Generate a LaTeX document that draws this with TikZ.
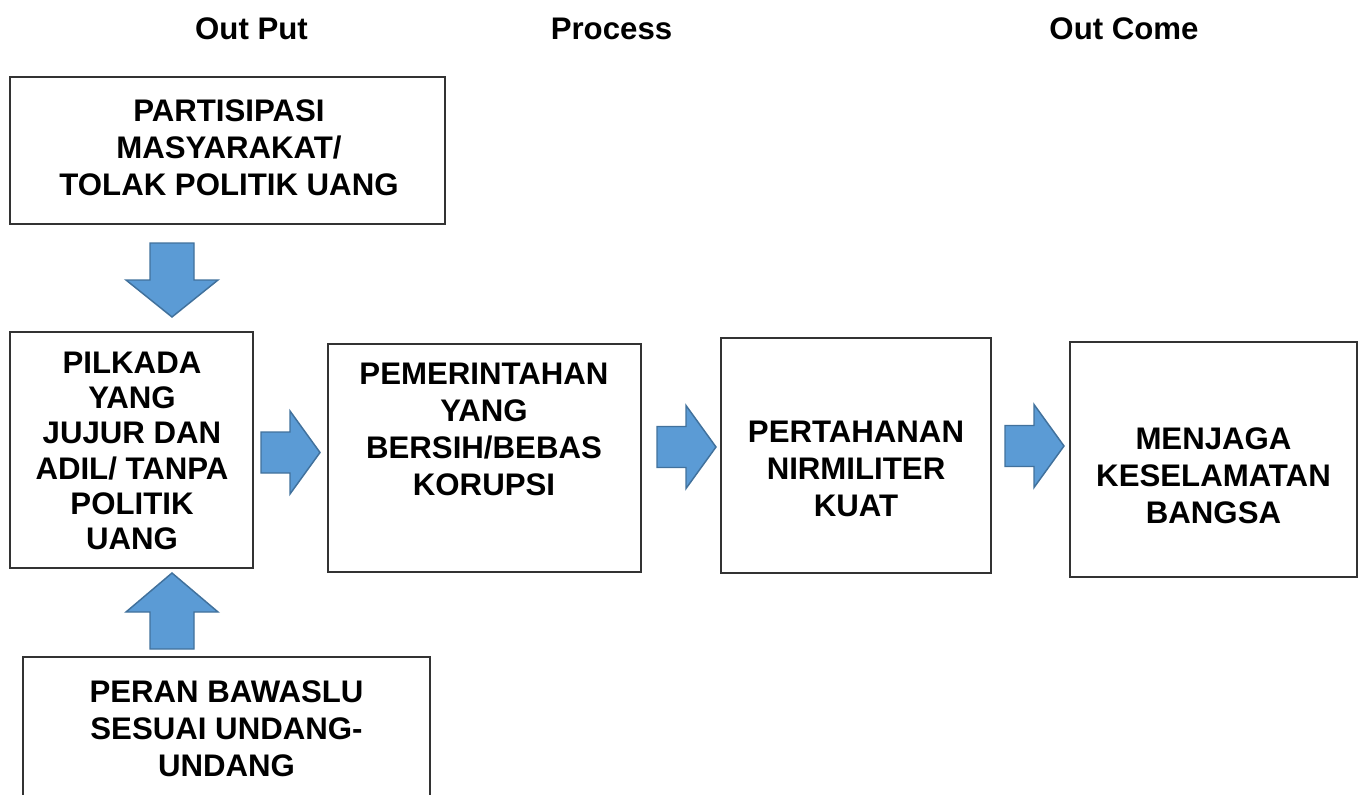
\documentclass[tikz,border=0pt]{standalone}
\usepackage{fontspec}
\setmainfont{Liberation Sans}
\usetikzlibrary{fit}
\definecolor{arrfill}{HTML}{5B9BD5}
\definecolor{arrline}{HTML}{41719C}
\tikzset{
  box/.style={draw=black!80, line width=0.9pt, inner sep=0pt, fill=white},
  txt/.style={align=center, inner sep=0pt, font=\bfseries\fontsize{23.4}{27.75}\selectfont},
  txtb/.style={align=center, inner sep=0pt, font=\bfseries\fontsize{23.4}{26.5}\selectfont},
  head/.style={inner sep=0pt, anchor=base, font=\bfseries\fontsize{23.4}{27}\selectfont},
  blockarrow/.style={fill=arrfill, draw=arrline, line width=1.1pt, line join=miter},
  rarr/.pic={\draw[blockarrow] (0,-20.5) -- (29,-20.5) -- (29,-41.5) -- (59,0) -- (29,41.5) -- (29,20.5) -- (0,20.5) -- cycle;},
  darr/.pic={\draw[blockarrow] (-22,0) -- (22,0) -- (22,37) -- (46,37) -- (0,74) -- (-46,37) -- (-22,37) -- cycle;},
  uarr/.pic={\draw[blockarrow] (-22,0) -- (22,0) -- (22,-37) -- (46,-37) -- (0,-76) -- (-46,-37) -- (-22,-37) -- cycle;},
}
\begin{document}
\begin{tikzpicture}[x=0.75pt,y=-0.75pt]
\useasboundingbox (0,0) rectangle (1363,795);
\clip (0,0) rectangle (1363,795);
% headers
\node[head] (hOut) at (251.5,40) {Out Put};
\node[head] (hProc) at (611.5,40) {Process};
\node[head] (hCome) at (1124,40) {Out Come};
% boxes
\node[box, fit={(10,77)(445,224)}] (A) {};
\node[box, fit={(10,332)(253,568)}] (B) {};
\node[box, fit={(23,657)(430,820)}] (C) {};
\node[box, fit={(328,344)(641,572)}] (D) {};
\node[box, fit={(721,338)(991,573)}] (E) {};
\node[box, fit={(1070,342)(1357,577)}] (F) {};
% texts
\node[txt] (tA) at (229,148) {PARTISIPASI\\MASYARAKAT/\\TOLAK POLITIK UANG};
\node[txtb] (tB) at (132,451) {PILKADA\\YANG\\JUJUR DAN\\ADIL/ TANPA\\POLITIK\\UANG};
\node[txt] (tC) at (226.5,728.5) {PERAN BAWASLU\\SESUAI UNDANG-\\UNDANG};
\node[txt] (tD) at (484,429) {PEMERINTAHAN\\YANG\\BERSIH/BEBAS\\KORUPSI};
\node[txt] (tE) at (856,469) {PERTAHANAN\\NIRMILITER\\KUAT};
\node[txt] (tF) at (1213.5,476) {MENJAGA\\KESELAMATAN\\BANGSA};
% block arrows
\pic at (172,243) {darr};
\pic at (172,649) {uarr};
\pic at (261,452.5) {rarr};
\pic at (657,447) {rarr};
\pic at (1005,446) {rarr};
\end{tikzpicture}
\end{document}
